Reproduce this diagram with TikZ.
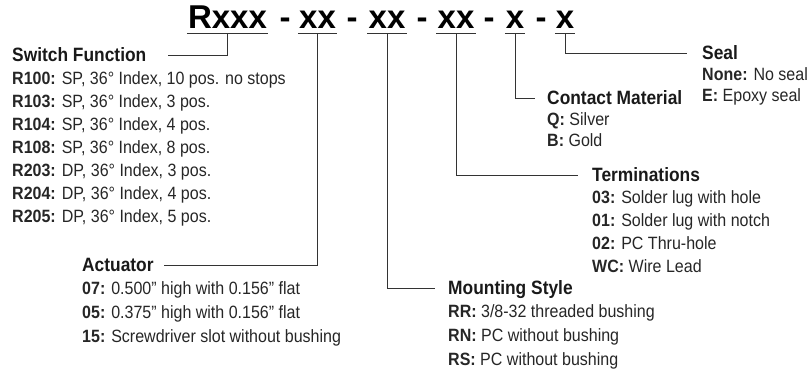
\documentclass[tikz,border=0pt]{standalone}
\usepackage{fontspec}
\setmainfont[FakeStretch=0.9]{Liberation Sans}
\newfontfamily\codefont{Liberation Sans}
\usetikzlibrary{positioning}

\begin{document}
\begin{tikzpicture}[x=1pt,y=-1pt,
  code/.style={font=\codefont\fontsize{33}{33}\selectfont\bfseries,inner sep=0pt,anchor=base},
  field/.style={code,minimum width=#1},
  head/.style={font=\fontsize{19.3}{22}\selectfont\bfseries,text=black!90,inner sep=0pt,
    text height=13.8pt,text depth=0pt},
  item/.style={font=\fontsize{17.8}{20}\selectfont,text=black!85,inner sep=0pt,
    text height=12.7pt,text depth=0pt,anchor=west},
  link/.style={draw=black!80,line width=0.8pt}]
  \useasboundingbox (0,0) rectangle (810,375);
    % Part number
    \node[field=81pt] (rxxx) at (227.5,28) {Rxxx};
    \node[code] (d1) at (285,28) {-};
    \node[field=39pt] (act) at (317.5,28) {xx};
    \node[code] (d2) at (352,28) {-};
    \node[field=39pt] (mnt) at (387,28) {xx};
    \node[code] (d3) at (422,28) {-};
    \node[field=39pt] (trm) at (456,28) {xx};
    \node[code] (d4) at (489,28) {-};
    \node[field=20pt] (cnt) at (515,28) {x};
    \node[code] (d5) at (541,28) {-};
    \node[field=20pt] (seal) at (565,28) {x};
    \foreach \f in {rxxx,act,mnt,trm,cnt,seal}
      \draw[link] ([yshift=-5pt]\f.base west) -- ([yshift=-5pt]\f.base east);
    % Headings
    \node[head,anchor=west] (hfun) at (12,55) {Switch Function};
    \node[head,anchor=west] (hact) at (82,265) {Actuator};
    \node[head,anchor=west] (hmnt) at (448,288) {Mounting Style};
    \node[head,anchor=west] (htrm) at (592,175) {Terminations};
    \node[head,anchor=west] (hcnt) at (547,98) {Contact Material};
    \node[head,anchor=west] (hseal) at (702,53) {Seal};
    % Lists
    \foreach \k/\v [count=\i] in {R100/{SP, 36° Index, 10 pos. no stops},
      R103/{SP, 36° Index, 3 pos.}, R104/{SP, 36° Index, 4 pos.},
      R108/{SP, 36° Index, 8 pos.}, R203/{DP, 36° Index, 3 pos.},
      R204/{DP, 36° Index, 4 pos.}, R205/{DP, 36° Index, 5 pos.}}
      \node[item] (fun-\i) at ([yshift={-23.5pt-(\i-1)*23pt}]hfun.west)
        {\textbf{\k:} \v};
    \foreach \k/\v [count=\i] in {07/{0.500” high with 0.156” flat},
      05/{0.375” high with 0.156” flat}, 15/{Screwdriver slot without bushing}}
      \node[item] (act-\i) at ([yshift={-23pt-(\i-1)*24pt}]hact.west)
        {\textbf{\k:} \v};
    \foreach \k/\v [count=\i] in {RR/{3/8-32 threaded bushing},
      RN/{PC without bushing}, RS/{PC without bushing}}
      \node[item] (mnt-\i) at ([yshift={-23pt-(\i-1)*24pt}]hmnt.west)
        {\textbf{\k:} \v};
    \foreach \k/\v [count=\i] in {03/{Solder lug with hole},
      01/{Solder lug with notch}, 02/{PC Thru-hole}, WC/{Wire Lead}}
      \node[item] (trm-\i) at ([yshift={-22.5pt-(\i-1)*23pt}]htrm.west)
        {\textbf{\k:} \v};
    \foreach \k/\v [count=\i] in {Q/Silver, B/Gold}
      \node[item] (cnt-\i) at ([yshift={-21pt-(\i-1)*21pt}]hcnt.west)
        {\textbf{\k:} \v};
    \foreach \k/\v [count=\i] in {None/{No seal}, E/{Epoxy seal}}
      \node[item] (seal-\i) at ([yshift={-21pt-(\i-1)*21pt}]hseal.west)
        {\textbf{\k:} \v};
    % Connectors
    \draw[link,shorten >=21pt] ([yshift=-5pt]rxxx.base) |- (hfun.east);
    \draw[link,shorten >=10pt] ([yshift=-5pt]act.base) |- (hact.east);
    \draw[link,shorten >=13pt] ([yshift=-5pt]mnt.base) |- (hmnt.west);
    \draw[link,shorten >=14pt] ([yshift=-5pt]trm.base) |- (htrm.west);
    \draw[link,shorten >=12pt] ([yshift=-5pt]cnt.base) |- (hcnt.west);
    \draw[link,shorten >=15pt] ([yshift=-5pt]seal.base) |- (hseal.west);
\end{tikzpicture}
\end{document}
